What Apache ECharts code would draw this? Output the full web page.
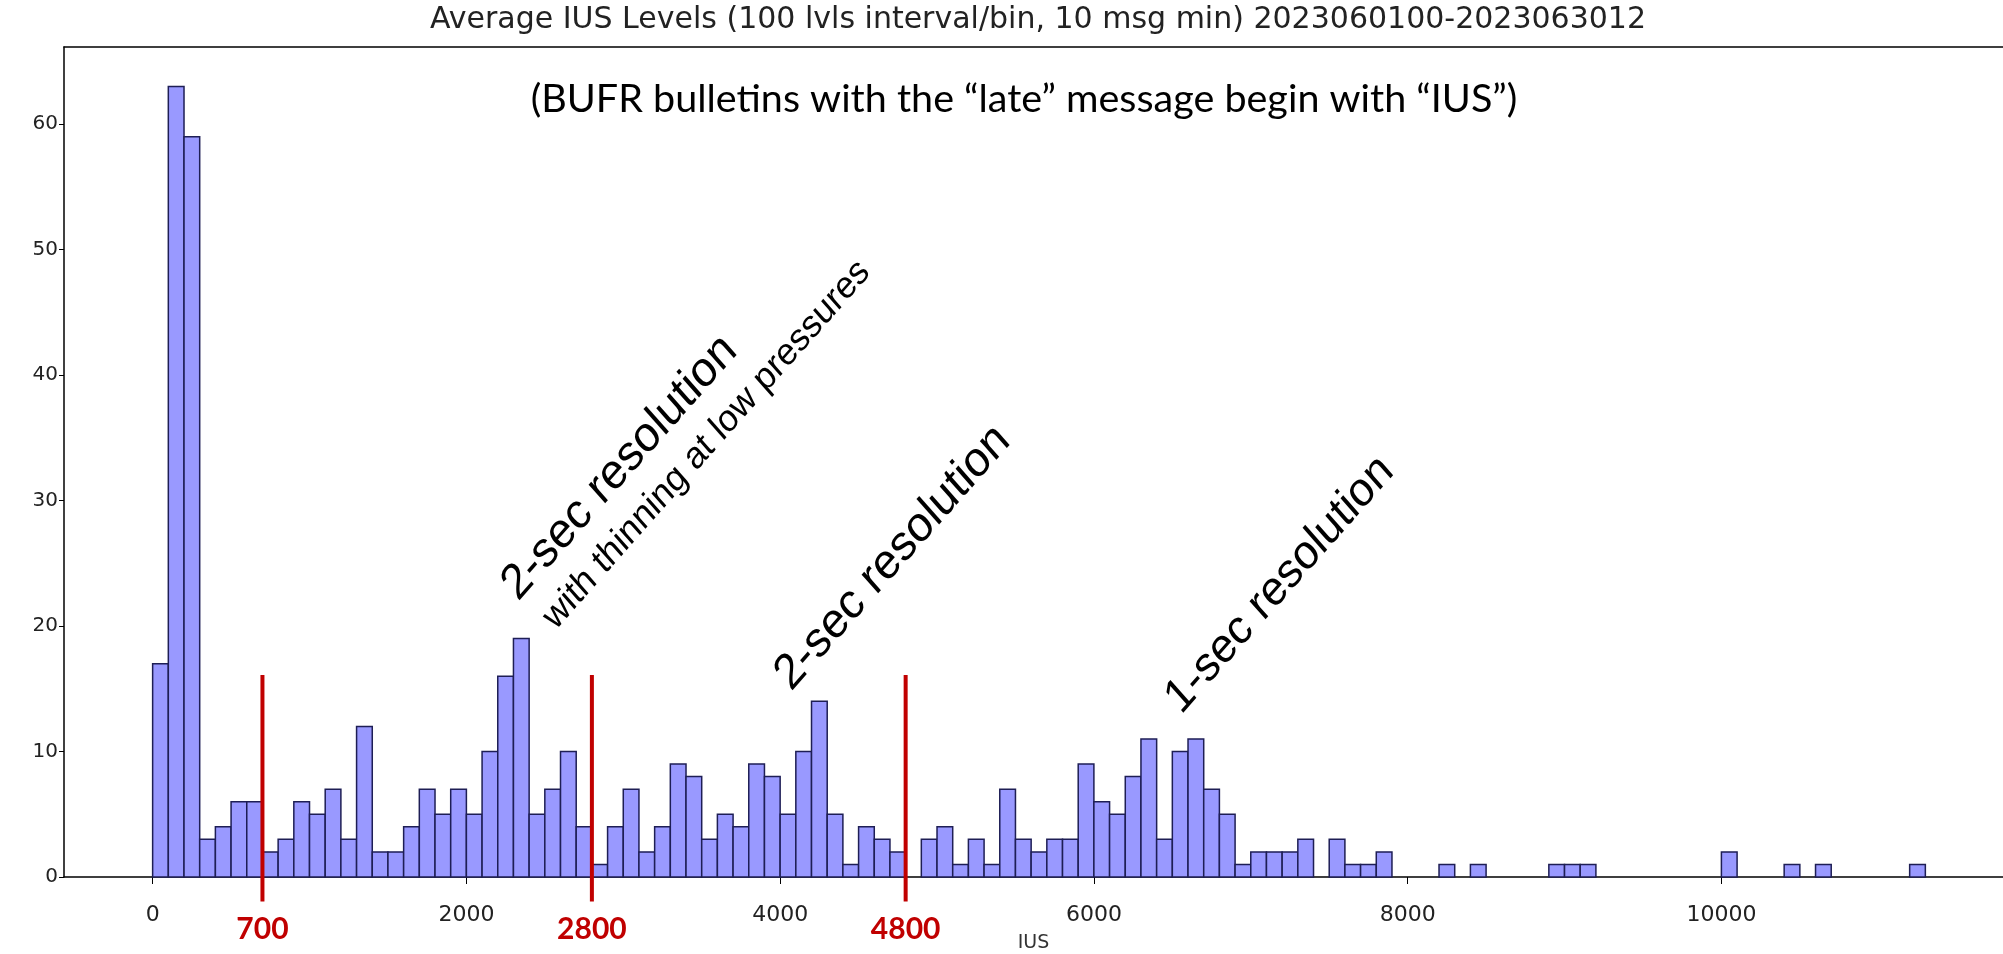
<!DOCTYPE html>
<html>
<head>
<meta charset="utf-8">
<script src="https://cdn.jsdelivr.net/npm/echarts@6/dist/echarts.min.js"></script>
<style>
  html, body { margin: 0; padding: 0; background: #fff; }
  #chart { width: 2003px; height: 954px; }
</style>
</head>
<body>
<div id="chart"></div>
<script>
// histogram: 100 IUS levels per bin, first bin starts at 0
var binStart = 0;
var binWidth = 100;
var counts = [
  17, 63, 59, 3, 4, 6, 6, 2, 3, 6,
  5, 7, 3, 12, 2, 2, 4, 7, 5, 7,
  5, 10, 16, 19, 5, 7, 10, 4, 1, 4,
  7, 2, 4, 9, 8, 3, 5, 4, 9, 8,
  5, 10, 14, 5, 1, 4, 3, 2, 0, 3,
  4, 1, 3, 1, 7, 3, 2, 3, 3, 9,
  6, 5, 8, 11, 3, 10, 11, 7, 5, 1,
  2, 2, 2, 3, 0, 3, 1, 1, 2, 0,
  0, 0, 1, 0, 1, 0, 0, 0, 0, 1,
  1, 1, 0, 0, 0, 0, 0, 0, 0, 0,
  2, 0, 0, 0, 1, 0, 1, 0, 0, 0,
  0, 0, 1
];
var xTicks = [0, 2000, 4000, 6000, 8000, 10000];
var yTicks = [0, 10, 20, 30, 40, 50, 60];
// red resolution boundaries
var boundaries = [700, 2800, 4800];

var titleText = 'Average IUS Levels (100 lvls interval/bin, 10 msg min) 2023060100-2023063012';
var noteText = '(BUFR bulletins with the \u201clate\u201d message begin with \u201cIUS\u201d)';

var bins = counts.map(function (c, i) {
  var x0 = binStart + i * binWidth;
  return [x0, x0 + binWidth, c];
});

var xMin = -565, xMax = 11795;   // right spine falls just outside the picture
var chart = echarts.init(document.getElementById('chart'));

// rotated annotation, squeezed a bit horizontally like the picture
function slanted(x, y, text, size) {
  return {
    type: 'group', x: x, y: y, scaleX: 0.884,
    children: [{
      type: 'text', rotation: Math.PI / 4,
      style: { text: text, font: size + 'px "Liberation Sans"', fill: '#000', align: 'left', verticalAlign: 'bottom' }
    }]
  };
}

var option = {
  animation: false,
  backgroundColor: '#fff',
  grid: { left: 64, top: 47, right: 0, bottom: 77, outerBoundsMode: 'none' },
  xAxis: [{
    type: 'value', min: xMin, max: xMax,
    name: 'IUS', nameLocation: 'middle', nameGap: 57,
    nameTextStyle: { fontFamily: 'DejaVu Sans', fontSize: 19, color: '#333' },
    splitLine: { show: false },
    axisLine: { onZero: false, lineStyle: { color: '#000', width: 1.5 } },
    axisTick: { show: true, length: 7, lineStyle: { color: '#000' }, customValues: xTicks },
    axisLabel: { customValues: xTicks, formatter: function (v) { return String(v); }, fontFamily: 'DejaVu Sans', fontSize: 22, color: '#222', margin: 27 }
  }, {
    type: 'value', position: 'top', min: xMin, max: xMax,
    splitLine: { show: false },
    axisLine: { show: true, onZero: false, lineStyle: { color: '#000', width: 1.5 } },
    axisTick: { show: false },
    axisLabel: { show: false }
  }],
  yAxis: {
    type: 'value', min: 0, max: 66.15,
    splitLine: { show: false },
    axisLine: { show: true, onZero: false, lineStyle: { color: '#000', width: 1.5 } },
    axisTick: { show: true, length: 5, lineStyle: { color: '#000' }, customValues: yTicks },
    axisLabel: { customValues: yTicks, fontFamily: 'DejaVu Sans', fontSize: 20, color: '#222', margin: 6 }
  },
  graphic: [
    { type: 'text', x: 1038, y: 20, style: { text: titleText, font: '30px "DejaVu Sans"', fill: '#222', align: 'center', verticalAlign: 'middle' } },
    { type: 'text', x: 1024, y: 99, style: { text: noteText, font: '39.5px Lato', fill: '#000', align: 'center', verticalAlign: 'middle' } },
    slanted(525, 610, '2-sec resolution', 50),
    slanted(561, 637, 'with thinning at low pressures', 38.5),
    slanted(798, 700, '2-sec resolution', 50),
    slanted(1188, 723, '1-sec resolution', 48.5)
  ],
  series: [
    {
      type: 'custom',
      data: bins,
      encode: { x: [0, 1], y: 2 },
      renderItem: function (params, api) {
        var c = api.value(2);
        if (!c) return;
        var p0 = api.coord([api.value(0), c]);
        var p1 = api.coord([api.value(1), 0]);
        return {
          type: 'rect',
          shape: { x: p0[0], y: p0[1], width: p1[0] - p0[0], height: p1[1] - p0[1] },
          style: { fill: '#9999ff', stroke: '#1e1e55', lineWidth: 1.5 }
        };
      }
    },
    {
      type: 'custom',
      clip: false,
      z: 5,
      data: boundaries.map(function (v) { return [v]; }),
      encode: { x: 0 },
      renderItem: function (params, api) {
        var v = api.value(0);
        var top = api.coord([v, 16.1]);
        var bot = api.coord([v, -1.95]);
        return {
          type: 'group',
          children: [
            { type: 'line', shape: { x1: top[0], y1: top[1], x2: bot[0], y2: bot[1] }, style: { stroke: '#c00000', lineWidth: 4 } },
            { type: 'text', x: bot[0], y: bot[1] + 28, style: { text: String(v), font: 'bold 30px Lato', fill: '#c00000', align: 'center', verticalAlign: 'middle' } }
          ]
        };
      }
    }
  ]
};
chart.setOption(option);
</script>
</body>
</html>
